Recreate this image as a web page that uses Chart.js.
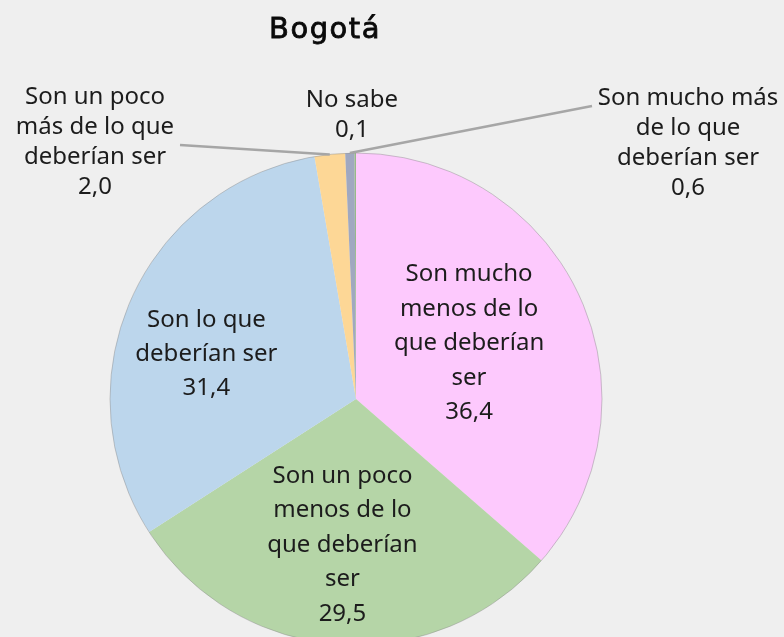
<!DOCTYPE html>
<html lang="es">
<head>
<meta charset="utf-8">
<title>Bogotá</title>
<script src="https://cdn.jsdelivr.net/npm/chart.js@4.4.1/dist/chart.umd.min.js"></script>
<style>
  html, body { margin: 0; padding: 0; background: #efefef; }
  #wrap { width: 784px; height: 637px; }
</style>
</head>
<body>
<div id="wrap"><canvas id="pie" width="784" height="637"></canvas></div>
<script>
(function () {
    'use strict';

    var chartTitle = 'Bogotá';
    var categories = [
        ['Son mucho', 'menos de lo', 'que deberían', 'ser'],
        ['Son un poco', 'menos de lo', 'que deberían', 'ser'],
        ['Son lo que', 'deberían ser'],
        ['Son un poco', 'más de lo que', 'deberían ser'],
        ['Son mucho más', 'de lo que', 'deberían ser'],
        ['No sabe']
    ];
    var values = [36.4, 29.5, 31.4, 2.0, 0.6, 0.1];
    var sliceColors = ['#fdc9fd', '#b5d5a7', '#bcd6ec', '#fdd796', '#a0a8c0', '#98b88a'];

    // where each slice's label goes: inside along the mid angle, or outside with a leader line
    var labelPlacement = [
        { inside: true, frac: 0.505, dx: 0, dy: -4, lineHeight: 34.5 },
        { inside: true, frac: 0.594, dx: -3, dy: 0, lineHeight: 34.5 },
        { inside: true, frac: 0.62, dx: -10, dy: 17, lineHeight: 34 },
        { x: 95, y: 142.5, lineHeight: 30, leader: [180, 145] },
        { x: 688, y: 143, lineHeight: 30, leader: [592, 106] },
        { x: 352, y: 115, lineHeight: 30 }
    ];

    function formatValue(v) {
        return v.toFixed(1).replace('.', ',');
    }

    var pieDecor = {
        id: 'pieDecor',
        beforeDraw: function (chart) {
            var ctx = chart.ctx;
            ctx.save();
            ctx.fillStyle = '#efefef';
            ctx.fillRect(0, 0, chart.width, chart.height);
            ctx.restore();
        },
        afterDatasetsDraw: function (chart) {
            var ctx = chart.ctx;
            var arcs = chart.getDatasetMeta(0).data;

            ctx.save();
            // faint rim around the whole pie
            if (arcs.length) {
                ctx.strokeStyle = 'rgba(140, 140, 140, 0.45)';
                ctx.lineWidth = 1;
                ctx.beginPath();
                ctx.arc(arcs[0].x, arcs[0].y, arcs[0].outerRadius, 0, Math.PI * 2);
                ctx.stroke();
            }

            // leader lines first so text sits on top
            ctx.strokeStyle = '#a6a6a6';
            ctx.lineWidth = 2.5;
            arcs.forEach(function (arc, i) {
                var p = labelPlacement[i];
                if (!p.leader) {
                    return;
                }
                var mid = (arc.startAngle + arc.endAngle) / 2;
                ctx.beginPath();
                ctx.moveTo(p.leader[0], p.leader[1]);
                ctx.lineTo(arc.x + Math.cos(mid) * arc.outerRadius, arc.y + Math.sin(mid) * arc.outerRadius);
                ctx.stroke();
            });

            ctx.fillStyle = '#1c1c1c';
            ctx.font = '24px "Noto Sans"';
            ctx.textAlign = 'center';
            ctx.textBaseline = 'middle';
            arcs.forEach(function (arc, i) {
                var p = labelPlacement[i];
                var lines = categories[i].concat([formatValue(values[i])]);
                var cx, cy;
                if (p.inside) {
                    var mid = (arc.startAngle + arc.endAngle) / 2;
                    var r = arc.outerRadius * p.frac;
                    cx = arc.x + Math.cos(mid) * r + p.dx;
                    cy = arc.y + Math.sin(mid) * r + p.dy;
                } else {
                    cx = p.x;
                    cy = p.y;
                }
                var top = cy - (lines.length - 1) * p.lineHeight / 2;
                lines.forEach(function (line, j) {
                    ctx.fillText(line, cx, top + j * p.lineHeight);
                });
            });

            // title, thickened slightly with a thin stroke
            ctx.fillStyle = '#0a0a0a';
            ctx.strokeStyle = '#0a0a0a';
            ctx.lineWidth = 0.8;
            ctx.font = '29px "DejaVu Sans"';
            ctx.letterSpacing = '1.5px';
            ctx.textBaseline = 'alphabetic';
            ctx.fillText(chartTitle, 325, 38);
            ctx.strokeText(chartTitle, 325, 38);
            ctx.restore();
        }
    };

    new Chart(document.getElementById('pie'), {
        type: 'pie',
        data: {
            labels: categories,
            datasets: [{
                data: values,
                backgroundColor: sliceColors,
                borderWidth: 0,
                radius: 246
            }]
        },
        options: {
            responsive: false,
            devicePixelRatio: 1,
            animation: false,
            layout: {
                padding: { top: 161, left: 0, right: 72, bottom: 0 }
            },
            plugins: {
                legend: { display: false },
                tooltip: { enabled: false }
            }
        },
        plugins: [pieDecor]
    });
})();
</script>
</body>
</html>
